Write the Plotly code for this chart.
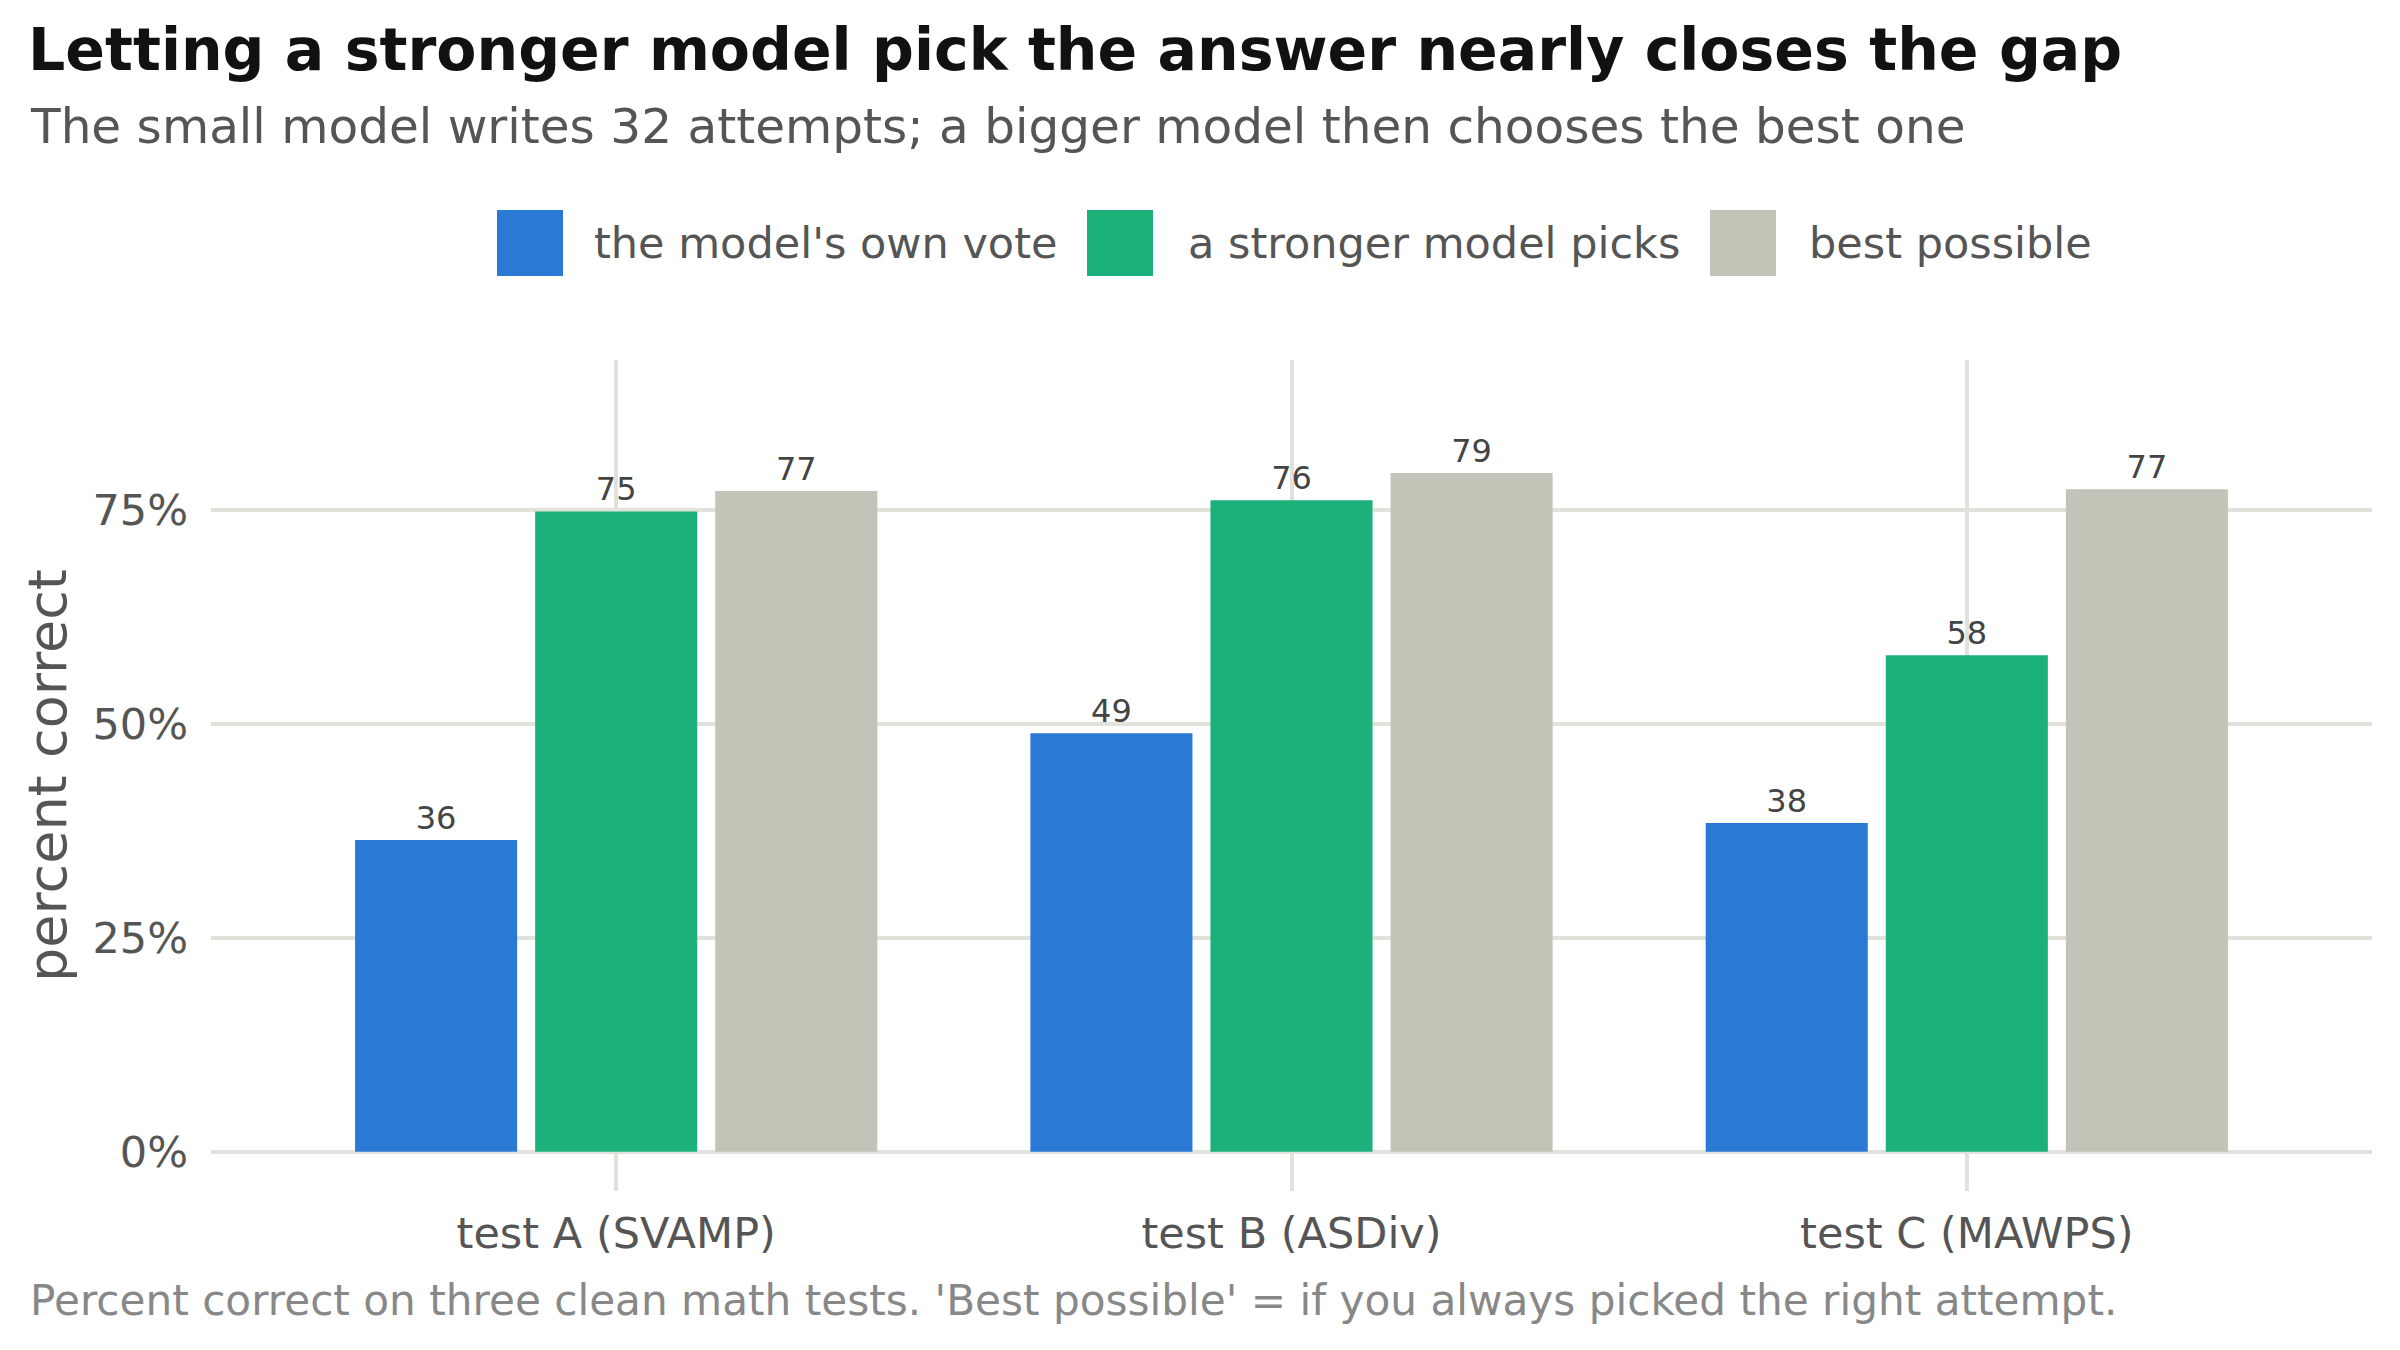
import plotly.graph_objects as go

categories = ["test A (SVAMP)", "test B (ASDiv)", "test C (MAWPS)"]
series_names = ["the model's own vote", "a stronger model picks", "best possible"]
own_vote = [36.4, 48.9, 38.4]
stronger_picks = [74.8, 76.1, 58.0]
best_possible = [77.2, 79.3, 77.4]
y_tick_vals = [0, 25, 50, 75]
y_tick_text = ["0%", "25%", "50%", "75%"]

colors = ["#2979d5", "#1cb07b", "#c3c3b7"]
FONT = "DejaVu Sans"

W, H = 2400, 1350
L, R, T, B = 211, 28, 360, 159
PW, PH = W - L - R, H - T - B

def px_to_paper_x(px):
    return (px - L) / PW

def px_to_paper_y(py):
    return (H - B - py) / PH

fig = go.Figure()
for name, vals, col in zip(series_names, [own_vote, stronger_picks, best_possible], colors):
    fig.add_trace(go.Bar(
        x=categories, y=vals, name=name, marker=dict(color=col, line=dict(width=0)),
        text=[f"{v:.0f}" for v in vals], textposition="outside",
        textfont=dict(family=FONT, size=32, color="#444444"),
        cliponaxis=False, showlegend=False,
    ))

# custom legend (large swatches)
legend_items = [(497, 592), (1087, 1186), (1710, 1807)]
shapes = []
annotations = []
for (sx, tx), name, col in zip(legend_items, series_names, colors):
    shapes.append(dict(type="rect", xref="paper", yref="paper",
                       x0=px_to_paper_x(sx), x1=px_to_paper_x(sx + 66),
                       y0=px_to_paper_y(276), y1=px_to_paper_y(210),
                       fillcolor=col, line=dict(width=0)))
    annotations.append(dict(xref="paper", yref="paper", x=px_to_paper_x(tx), y=px_to_paper_y(243),
                            xanchor="left", yanchor="middle", showarrow=False, text=name,
                            font=dict(family=FONT, size=43, color="#555555")))

annotations.append(dict(xref="paper", yref="paper", x=px_to_paper_x(28), y=px_to_paper_y(126),
                        xanchor="left", yanchor="middle", showarrow=False,
                        text="The small model writes 32 attempts; a bigger model then chooses the best one",
                        font=dict(family=FONT, size=48.5, color="#555555")))
annotations.append(dict(xref="paper", yref="paper", x=px_to_paper_x(28), y=px_to_paper_y(1300),
                        xanchor="left", yanchor="middle", showarrow=False,
                        text="Percent correct on three clean math tests. 'Best possible' = if you always picked the right attempt.",
                        font=dict(family=FONT, size=42.2, color="#888888")))

fig.update_layout(
    width=W, height=H,
    margin=dict(l=L, r=R, t=T, b=B, autoexpand=False),
    paper_bgcolor="white", plot_bgcolor="white",
    font=dict(family=FONT),
    title=dict(text="<b>Letting a stronger model pick the answer nearly closes the gap</b>",
               xref="container", yref="container", x=28 / W, y=1 - 50 / H,
               xanchor="left", yanchor="middle",
               font=dict(family=FONT, size=58.5, color="#111111")),
    barmode="group", bargap=0.2, bargroupgap=0.1,
    shapes=shapes, annotations=annotations,
)
fig.update_xaxes(range=[-0.6, 2.6], showgrid=True, gridcolor="#e2e2dc", gridwidth=4,
                 showline=False, zeroline=False, ticks="",
                 tickfont=dict(family=FONT, size=43, color="#555555"), ticklabelstandoff=13)
fig.update_yaxes(range=[-4.6, 92.5], tickvals=y_tick_vals, ticktext=y_tick_text,
                 showgrid=True, gridcolor="#e2e2dc", gridwidth=4, zeroline=False, showline=False,
                 tickfont=dict(family=FONT, size=43, color="#555555"), ticklabelstandoff=22,
                 title=dict(text="percent correct", font=dict(family=FONT, size=54, color="#555555"), standoff=8))

fig.write_html("out.html")
